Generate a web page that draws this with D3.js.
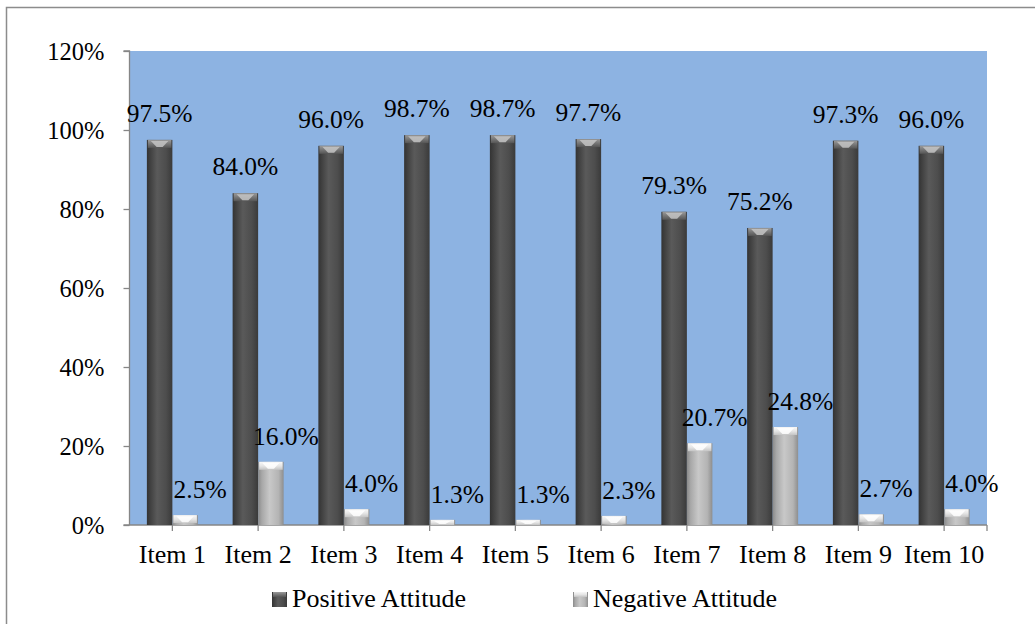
<!DOCTYPE html>
<html><head><meta charset="utf-8">
<script src="https://cdn.jsdelivr.net/npm/d3@7"></script>
<style>
html,body{margin:0;padding:0;background:#fff;}
svg{display:block;}
svg text{font-family:"Liberation Serif","Times New Roman",serif;}
</style></head>
<body>
<svg id="c" width="1035" height="624"></svg>
<script>
const categories = ["Item 1","Item 2","Item 3","Item 4","Item 5","Item 6","Item 7","Item 8","Item 9","Item 10"];
const positive = [97.5,84.0,96.0,98.7,98.7,97.7,79.3,75.2,97.3,96.0];
const negative = [2.5,16.0,4.0,1.3,1.3,2.3,20.7,24.8,2.7,4.0];
const seriesNames = ["Positive Attitude","Negative Attitude"];
const yTicks = [0,20,40,60,80,100,120];

const FONT = "Liberation Serif";
const svg = d3.select("#c");
const L = 129.5, R = 987, T = 51, B = 525;

// outer border
svg.append("rect").attr("x",6.5).attr("y",7.5).attr("width",1040).attr("height",640)
  .attr("fill","#fff").attr("stroke","#8c8c8c").attr("stroke-width",1.5);

const defs = svg.append("defs");
function hgrad(id, stops){
  const g = defs.append("linearGradient").attr("id",id).attr("x1","0").attr("x2","1").attr("y1","0").attr("y2","0");
  stops.forEach(s=>g.append("stop").attr("offset",s[0]).attr("stop-color",s[1]));
}
function vgrad(id, stops){
  const g = defs.append("linearGradient").attr("id",id).attr("x1","0").attr("x2","0").attr("y1","0").attr("y2","1");
  stops.forEach(s=>g.append("stop").attr("offset",s[0]).attr("stop-color",s[1]));
}
hgrad("gPos",[[0,"#333"],[0.12,"#3f3f3f"],[0.4,"#5a5a5a"],[0.75,"#4d4d4d"],[1,"#3a3a3a"]]);
hgrad("gNeg",[[0,"#8a8a8a"],[0.15,"#a8a8a8"],[0.45,"#c8c8c8"],[0.8,"#b4b4b4"],[1,"#8e8e8e"]]);
vgrad("tPos",[[0,"#9a9a9a"],[0.5,"#777"],[1,"#555"]]);
vgrad("tNeg",[[0,"#f8f8f8"],[0.5,"#e6e6e6"],[1,"#c4c4c4"]]);

// plot area
svg.append("rect").attr("x",L).attr("y",T).attr("width",R-L).attr("height",B-T).attr("fill","#8db3e2");

const x = d3.scaleBand().domain(categories).range([L,R]).paddingInner(0).paddingOuter(0);
const y = d3.scaleLinear().domain([0,120]).range([B,T]);
const bw = 25.5;

// y axis
const yAxis = d3.axisLeft(y).tickValues(yTicks).tickFormat(d=>d+"%").tickSize(6).tickPadding(19);
const ya = svg.append("g").attr("transform",`translate(${L},0)`).call(yAxis).attr("font-family",FONT);
ya.select(".domain").attr("stroke","#868686").attr("stroke-width",1.3).attr("d",`M-6,${T}H0V${B}`);
ya.selectAll(".tick line").attr("stroke","#868686").attr("stroke-width",1.3);
ya.selectAll(".tick text").attr("font-size",24.5).attr("fill","#000").attr("font-family",FONT).attr("dy","0.33em");

// x axis
const xa = svg.append("g").attr("transform",`translate(0,${B})`);
xa.append("line").attr("x1",L-6).attr("x2",R).attr("y1",0).attr("y2",0).attr("stroke","#868686").attr("stroke-width",1.3);
const tickXs = categories.map(c=>x(c)+x.bandwidth()/2).concat([R]);
xa.selectAll("line.t").data(tickXs).join("line").attr("class","t")
  .attr("x1",d=>d).attr("x2",d=>d).attr("y1",0).attr("y2",6).attr("stroke","#868686").attr("stroke-width",1.3);
xa.selectAll("text").data(categories).join("text")
  .attr("x",d=>x(d)+x.bandwidth()/2).attr("y",38).attr("text-anchor","middle")
  .attr("font-family",FONT).attr("font-size",26).text(d=>d);

function drawBar(g, x0, v, fillId, topId, hiColor){
  const top = y(v), h = B - top;
  g.append("rect").attr("x",x0).attr("y",top).attr("width",bw).attr("height",h).attr("fill",`url(#${fillId})`);
  const ch = Math.min(8, h);
  g.append("rect").attr("x",x0+1).attr("y",top).attr("width",bw-2).attr("height",ch).attr("fill",`url(#${topId})`);
  g.append("path").attr("d",`M${x0+4},${top+1}H${x0+bw-4}L${x0+bw/2+3},${top+ch-1}H${x0+bw/2-3}Z`)
    .attr("fill",hiColor).attr("opacity",0.85);
}

const bars = svg.append("g");
categories.forEach((c,i)=>{
  const cx = x(c)+x.bandwidth()/2;
  drawBar(bars, cx-bw, positive[i], "gPos", "tPos", "#c4c4c4");
  drawBar(bars, cx, negative[i], "gNeg", "tNeg", "#ffffff");
});

// data labels
const lab = svg.append("g").attr("font-size",25.5).attr("font-family",FONT).attr("text-anchor","middle").attr("fill","#000");
categories.forEach((c,i)=>{
  const cx = x(c)+x.bandwidth()/2;
  lab.append("text").attr("x",cx-bw/2).attr("y",y(positive[i])-18).attr("font-family",FONT).text(positive[i].toFixed(1)+"%");
  lab.append("text").attr("x",cx+bw/2+15).attr("y",y(negative[i])-17).attr("font-family",FONT).text(negative[i].toFixed(1)+"%");
});

// legend
const leg = svg.append("g");
const legX = [272, 573];
seriesNames.forEach((s,i)=>{
  leg.append("rect").attr("x",legX[i]).attr("y",592).attr("width",15).attr("height",15)
    .attr("fill",i===0?"url(#gPos)":"url(#gNeg)");
  leg.append("rect").attr("x",legX[i]+1).attr("y",592).attr("width",13).attr("height",5)
    .attr("fill",i===0?"url(#tPos)":"url(#tNeg)");
  leg.append("text").attr("x",legX[i]+20).attr("y",607).attr("font-family",FONT).attr("font-size",26).text(s);
});
</script>
</body></html>
